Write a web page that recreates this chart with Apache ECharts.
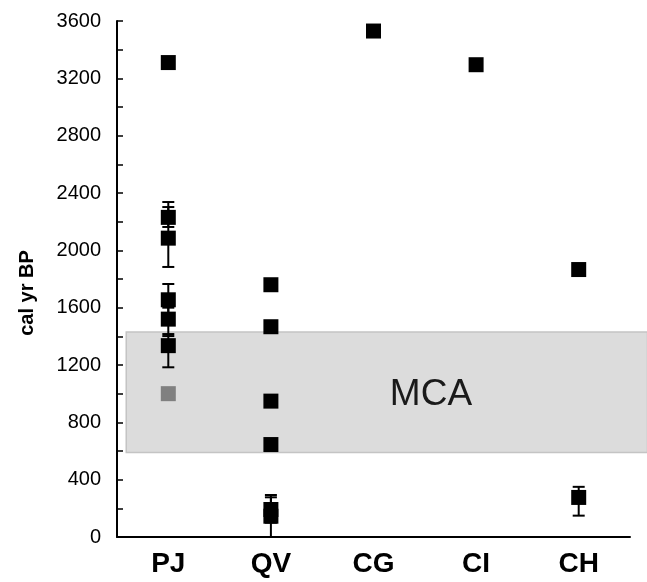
<!DOCTYPE html>
<html>
<head>
<meta charset="utf-8">
<script src="https://cdn.jsdelivr.net/npm/echarts@6/dist/echarts.min.js"></script>
<style>html,body{margin:0;padding:0;background:#fff}#c{width:647px;height:582px}</style>
</head>
<body>
<div id="c"></div>
<script>
const categories = ['PJ', 'QV', 'CG', 'CI', 'CH'];
const yTicks = [0, 400, 800, 1200, 1600, 2000, 2400, 2800, 3200, 3600];

// black squares
const blackCat = ['PJ', 'PJ', 'PJ', 'PJ', 'PJ', 'PJ', 'QV', 'QV', 'QV', 'QV', 'QV', 'QV', 'CG', 'CI', 'CH', 'CH'];
const blackAge = [3310, 2230, 2085, 1655, 1520, 1335, 1760, 1467, 948, 645, 192, 145, 3530, 3295, 1866, 276];
// grey square
const greyCat = ['PJ'];
const greyAge = [1000];

// error bars
const errCat = ['PJ', 'PJ', 'PJ', 'PJ', 'PJ', 'QV', 'QV', 'CH'];
const errLow = [2163, 1884, 1560, 1402, 1184, 100, 0, 149];
const errHigh = [2302, 2337, 1765, 1600, 1416, 293, 277, 350];

// MCA band (x in category units on a helper axis, y in cal yr BP)
const bandX = [0.59, 5.67];
const bandY = [590, 1430];
const bandLabel = 'MCA';
const bandLabelPos = [3.56, 990];

const chart = echarts.init(document.getElementById('c'), null, {renderer: 'canvas'});

const catIdx = c => categories.indexOf(c);

chart.setOption({
  animation: false,
  backgroundColor: '#fff',
  grid: {left: 117, right: 17, top: 21, bottom: 45, containLabel: false},
  xAxis: [{
    type: 'category',
    data: categories,
    boundaryGap: true,
    axisLine: {lineStyle: {color: '#000', width: 2}},
    axisTick: {inside: true, length: 6, lineStyle: {color: '#000', width: 1.5}},
    axisLabel: {color: '#000', fontFamily: 'Liberation Sans, Arial', fontWeight: 'bold', fontSize: 28, margin: 13},
    splitLine: {show: false}
  }, {
    type: 'value',
    min: 0.5, max: 5.5,
    show: false
  }],
  yAxis: {
    type: 'value',
    min: 0, max: 3600, interval: 200,
    name: 'cal yr BP',
    nameLocation: 'middle',
    nameGap: 80,
    nameTextStyle: {color: '#000', fontFamily: 'Liberation Sans, Arial', fontWeight: 'bold', fontSize: 20, padding: [0, 28, 0, 0]},
    axisLine: {show: true, lineStyle: {color: '#000', width: 2}},
    axisTick: {show: true, inside: true, length: 6, lineStyle: {color: '#000', width: 1.5}},
    axisLabel: {
      color: '#000', fontFamily: 'Liberation Sans, Arial', fontSize: 20, margin: 16,
      formatter: v => (yTicks.indexOf(v) >= 0 ? String(v) : '')
    },
    splitLine: {show: false}
  },
  series: [{
    type: 'custom',
    xAxisIndex: 1,
    clip: false,
    z: 1,
    silent: true,
    data: [[bandX[0], bandY[0], bandX[1], bandY[1]]],
    renderItem: (params, api) => {
      const p0 = api.coord([api.value(0), api.value(3)]);
      const p1 = api.coord([api.value(2), api.value(1)]);
      const tp = api.coord(bandLabelPos);
      return {
        type: 'group',
        children: [{
          type: 'rect',
          shape: {x: p0[0], y: p0[1], width: p1[0] - p0[0], height: p1[1] - p0[1]},
          style: {fill: '#dcdcdc', stroke: '#c4c4c4', lineWidth: 1.5}
        }, {
          type: 'text',
          x: tp[0], y: tp[1],
          style: {text: bandLabel, fill: '#1a1a1a', font: '37px "Liberation Sans", Arial', align: 'center', verticalAlign: 'middle'}
        }]
      };
    }
  }, {
    type: 'custom',
    z: 3,
    silent: true,
    data: errCat.map((c, i) => [catIdx(c), errLow[i], errHigh[i]]),
    renderItem: (params, api) => {
      const lo = api.coord([api.value(0), api.value(1)]);
      const hi = api.coord([api.value(0), api.value(2)]);
      const w = 6;
      const st = {stroke: '#000', lineWidth: 2};
      return {
        type: 'group',
        children: [
          {type: 'line', shape: {x1: lo[0], y1: lo[1], x2: hi[0], y2: hi[1]}, style: st},
          {type: 'line', shape: {x1: lo[0] - w, y1: lo[1], x2: lo[0] + w, y2: lo[1]}, style: st},
          {type: 'line', shape: {x1: hi[0] - w, y1: hi[1], x2: hi[0] + w, y2: hi[1]}, style: st}
        ]
      };
    }
  }, {
    type: 'scatter',
    z: 4,
    symbol: 'rect',
    symbolSize: 15,
    itemStyle: {color: '#000', opacity: 1},
    data: blackCat.map((c, i) => [catIdx(c), blackAge[i]])
  }, {
    type: 'scatter',
    z: 4,
    symbol: 'rect',
    symbolSize: 15,
    itemStyle: {color: '#808080', opacity: 1},
    data: greyCat.map((c, i) => [catIdx(c), greyAge[i]])
  }]
});
</script>
</body>
</html>
